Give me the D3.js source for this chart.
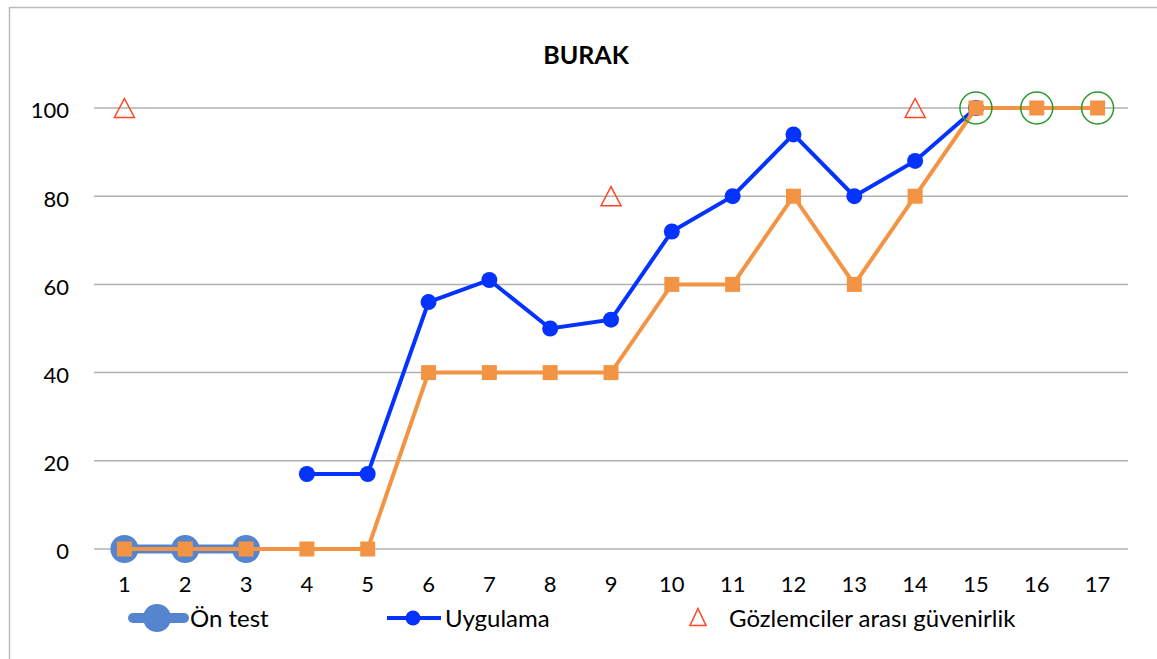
<!DOCTYPE html>
<html><head><meta charset="utf-8">
<script src="https://cdn.jsdelivr.net/npm/d3@7"></script>
<style>html,body{margin:0;padding:0;background:#fff;}svg{display:block;font-family:Lato,"Open Sans",sans-serif;}</style>
</head><body>
<svg id="c" width="1157" height="659"></svg>
<script>
const categories = ["1","2","3","4","5","6","7","8","9","10","11","12","13","14","15","16","17"];
const onTest = [0,0,0,null,null,null,null,null,null,null,null,null,null,null,null,null,null];
const uygulama = [null,null,null,17,17,56,61,50,52,72,80,94,80,88,100,null,null];
const orange = [0,0,0,0,0,40,40,40,40,60,60,80,60,80,100,100,100];
const guvenirlik = [100,null,null,null,null,null,null,null,80,null,null,null,null,100,null,null,null];
const greenCircles = [null,null,null,null,null,null,null,null,null,null,null,null,null,null,100,100,100];
const yTicks = [0,20,40,60,80,100];
const title = "BURAK";
const legendLabels = ["Ön test","Uygulama","Gözlemciler arası güvenirlik"];

const svg = d3.select("#c");
// border (left + top)
svg.append("path").attr("d","M9.5,659 L9.5,7.5 L1157,7.5").attr("fill","none").attr("stroke","#bdbdbd").attr("stroke-width",1.5);

const x = d3.scaleBand().domain(categories).range([94,1128]);
const y = d3.scaleLinear().domain([0,100]).range([549,108]);
const cx = c => x(c) + x.bandwidth()/2;

// gridlines
svg.append("g").selectAll("line").data(yTicks).join("line")
  .attr("x1",94).attr("x2",1128).attr("y1",d=>y(d)).attr("y2",d=>y(d))
  .attr("stroke","#b0b0b0").attr("stroke-width",1.5);

// y axis labels
const yAxis = d3.axisLeft(y).tickValues(yTicks).tickSize(0).tickPadding(0);
const gy = svg.append("g").attr("transform","translate(69,0)").call(yAxis);
gy.select(".domain").remove();
gy.selectAll("text").attr("font-size",22).attr("fill","#000").attr("font-family","Lato,sans-serif").attr("dy","0.45em");

// x axis labels
const xAxis = d3.axisBottom(x).tickSize(0).tickPadding(0);
const gx = svg.append("g").attr("transform","translate(0,592)").call(xAxis);
gx.select(".domain").remove();
gx.selectAll("text").attr("font-size",22).attr("fill","#000").attr("font-family","Lato,sans-serif").attr("dy","0");

// title
svg.append("text").attr("x",586).attr("y",63.5).attr("text-anchor","middle")
  .attr("font-size",25).attr("font-weight","bold").attr("fill","#000").text(title);

const line = d3.line().defined(d=>d.v!==null).x(d=>cx(d.c)).y(d=>y(d.v));
const mk = arr => categories.map((c,i)=>({c, v: arr[i]}));
const triPath = (w,h) => `M0,${-h/2}L${w/2},${h/2}L${-w/2},${h/2}Z`;

// Ön test
svg.append("path").datum(mk(onTest)).attr("d",line).attr("fill","none")
  .attr("stroke","#5585cf").attr("stroke-width",9);
svg.append("g").selectAll("circle").data(mk(onTest).filter(d=>d.v!==null)).join("circle")
  .attr("cx",d=>cx(d.c)).attr("cy",d=>y(d.v)).attr("r",14).attr("fill","#5585cf");

// Uygulama
svg.append("path").datum(mk(uygulama)).attr("d",line).attr("fill","none")
  .attr("stroke","#0433ff").attr("stroke-width",4);
svg.append("g").selectAll("circle").data(mk(uygulama).filter(d=>d.v!==null)).join("circle")
  .attr("cx",d=>cx(d.c)).attr("cy",d=>y(d.v)).attr("r",8).attr("fill","#0433ff");

// orange series
svg.append("path").datum(mk(orange)).attr("d",line).attr("fill","none")
  .attr("stroke","#f39444").attr("stroke-width",4);
svg.append("g").selectAll("rect").data(mk(orange).filter(d=>d.v!==null)).join("rect")
  .attr("x",d=>cx(d.c)-7.5).attr("y",d=>y(d.v)-7.5).attr("width",15).attr("height",15).attr("fill","#f39444");

// green circles
svg.append("g").selectAll("circle").data(mk(greenCircles).filter(d=>d.v!==null)).join("circle")
  .attr("cx",d=>cx(d.c)).attr("cy",d=>y(d.v)).attr("r",16).attr("fill","none")
  .attr("stroke","#2a9a2a").attr("stroke-width",1.5);

// triangles
svg.append("g").selectAll("path").data(mk(guvenirlik).filter(d=>d.v!==null)).join("path")
  .attr("transform",d=>`translate(${cx(d.c)},${y(d.v)})`).attr("d",triPath(20,19))
  .attr("fill","none").attr("stroke","#ff4422").attr("stroke-width",1.5);

// legend
const lg = svg.append("g");
const ly = 618;
lg.append("line").attr("x1",133).attr("x2",184).attr("y1",ly).attr("y2",ly).attr("stroke","#5585cf").attr("stroke-width",10).attr("stroke-linecap","round");
lg.append("circle").attr("cx",157).attr("cy",ly).attr("r",14).attr("fill","#5585cf");
lg.append("text").attr("x",190).attr("y",ly).attr("dy","0.36em").attr("font-size",24).text(legendLabels[0]);
lg.append("line").attr("x1",387).attr("x2",441).attr("y1",ly).attr("y2",ly).attr("stroke","#0433ff").attr("stroke-width",4);
lg.append("circle").attr("cx",413).attr("cy",ly).attr("r",7.5).attr("fill","#0433ff");
lg.append("text").attr("x",445).attr("y",ly).attr("dy","0.36em").attr("font-size",24).text(legendLabels[1]);
lg.append("path").attr("transform",`translate(698,${ly-1})`).attr("d",triPath(16,17)).attr("fill","none").attr("stroke","#ff4422").attr("stroke-width",1.5);
lg.append("text").attr("x",729).attr("y",ly).attr("dy","0.36em").attr("font-size",24).text(legendLabels[2]);
</script>
</body></html>
